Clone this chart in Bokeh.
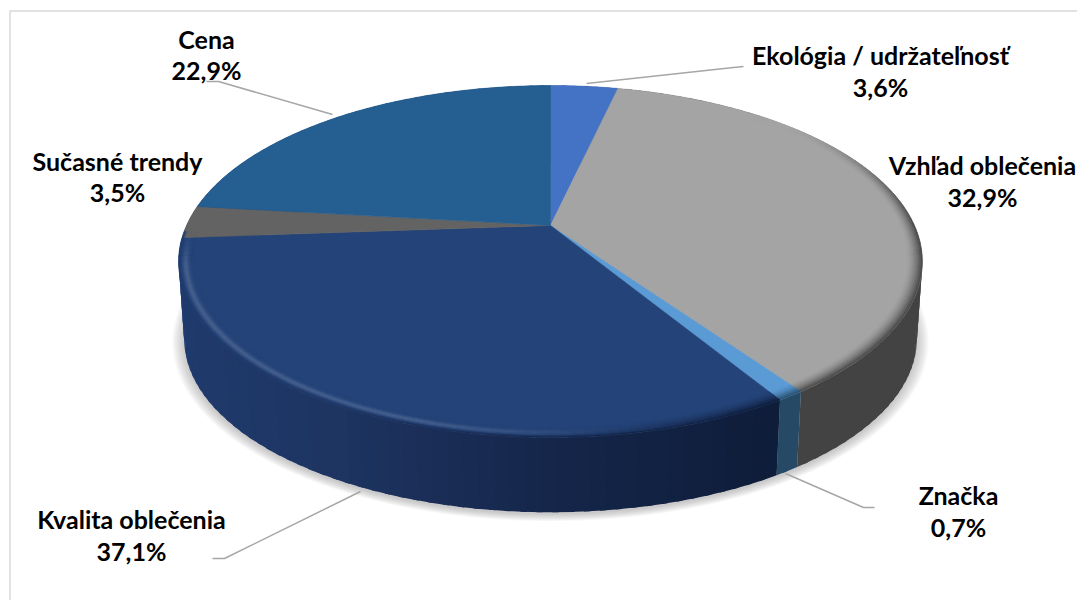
import numpy as np
from bokeh.plotting import figure
from bokeh.models import Range1d
from bokeh.core.properties import value
from bokeh.embed import file_html
from bokeh.resources import INLINE

# ---- data, clockwise from 12 o'clock, as seen in the picture ----
categories = ["Ekológia / udržateľnosť", "Vzhľad oblečenia", "Značka",
              "Kvalita oblečenia", "Sučasné trendy", "Cena"]
printed_labels = ["3,6%", "32,9%", "0,7%", "37,1%", "3,5%", "22,9%"]
# Sizes of the slices as measured from the drawing, which differ from the
# printed percentages: the grey slice is the larger one and the navy the smaller.
drawn_shares = [3.6, 37.1, 1.0, 32.9, 3.0, 23.4]

# ---- style and layout ----
top_colors = ["#4472c4", "#a4a4a4", "#5b9bd5", "#244378", "#636363", "#255e91"]
wall_colors = ["#2a4a80", "#434343", "#264a66", "#15264a", "#1f3b6e", "#1f3b6e"]
label_x = [880, 982, 958, 131, 117, 206]
name_y = [54, 164, 494, 518, 160, 38]
pct_y = [86, 196, 526, 550, 191, 69]
leaders = [
    ([586, 733, 743], [83, 67, 66]),
    ([785, 863, 874], [473, 507, 507]),
    ([360, 224, 212], [491, 558, 558]),
    ([206, 218, 332], [81, 81, 114]),
]
CX, CY = 550.0, 225.0
A, B, K = 364.0, 168.6, 0.2045
BOT_SCALE, BOT_DY = 0.985, 78.0
RIM = 0.96


def project(theta, r=1.0, bottom=False):
    u, v = r * np.sin(theta), r * np.cos(theta)
    d = 1 + K * v
    x, y = A * u / d, -B * v / d
    if bottom:
        x, y = x * BOT_SCALE, y * BOT_SCALE + BOT_DY
    return CX + x, CY + y


def rgb(c):
    return np.array([int(c[i:i + 2], 16) for i in (1, 3, 5)], dtype=float)


def hexc(a):
    return "#%02x%02x%02x" % tuple(int(round(min(255, max(0, x)))) for x in a)


def mix(a, b, t):
    return a + (b - a) * t


def sstep(e0, e1, x):
    t = np.clip((x - e0) / (e1 - e0), 0, 1)
    return t * t * (3 - 2 * t)


shares = np.array(drawn_shares, dtype=float)
edges = np.concatenate([[0], np.cumsum(shares)]) / shares.sum() * 2 * np.pi
NAVY = 3


def wall_shade(i, theta):
    base = rgb(wall_colors[i])
    if i == NAVY:
        u = np.sin(theta)
        stops_u = [-1.0, -0.5, 0.0, 0.6, 1.0]
        stops = np.array([rgb(c) for c in
                          ["#1f3b6e", "#1e3562", "#15264a", "#0d1b36", "#0d1b36"]])
        return np.array([np.interp(u, stops_u, stops[:, k]) for k in range(3)])
    return base


p = figure(width=1077, height=600, output_backend="svg", toolbar_location=None,
           x_range=Range1d(0, 1077), y_range=Range1d(600, 0), min_border=0)
p.axis.visible = False
p.grid.visible = False
p.outline_line_color = None
p.background_fill_color = "white"
p.border_fill_color = "white"

# chart frame (its right and bottom sides lie outside the picture)
p.line([1077, 9.5, 9.5], [10.5, 10.5, 600], line_color="#d9d9d9", line_width=1.5)

# soft shadow under the disc
ring = np.linspace(0, 2 * np.pi, 240)
sx, sy = [], []
for grow in np.linspace(1.0, 1.032, 9)[::-1]:
    bx, by = project(ring, 1.0, True)
    sx.append(list(CX + (bx - CX) * grow))
    sy.append(list(CY + BOT_DY * 0.95 + (by - CY - BOT_DY * 0.95) * grow + 2))
p.patches(sx, sy, fill_color="#7f7f7f", fill_alpha=0.055, line_color=None)

# side wall, overlapping strips
strips = []
for i in range(len(shares)):
    n = max(2, int(np.degrees(edges[i + 1] - edges[i]) / 2))
    grid = np.linspace(edges[i], edges[i + 1], n + 1)
    step = grid[1] - grid[0]
    for t0 in grid[:-1]:
        t1 = min(t0 + step * 1.4, edges[i + 1])
        tm = t0 + step / 2
        x0, y0 = project(t0)
        x1, y1 = project(t1)
        x2, y2 = project(t1, 1.0, True)
        x3, y3 = project(t0, 1.0, True)
        strips.append(([x0, x1, x2, x3], [y0, y1, y2, y3], hexc(wall_shade(i, tm))))
p.patches([s[0] for s in strips], [s[1] for s in strips],
          fill_color=[s[2] for s in strips], line_color=None)

# top faces
for i in range(len(shares)):
    grid = np.linspace(edges[i], edges[i + 1], max(3, int(np.degrees(edges[i + 1] - edges[i]))))
    x, y = project(grid)
    p.patch([CX] + list(x), [CY] + list(y), fill_color=top_colors[i],
            line_color=top_colors[i], line_width=0.5)

# rounded rim of the top faces
rim_r = np.linspace(RIM, 1.0, 11)
white = np.array([255.0, 255.0, 255.0])
rx, ry, rc = [], [], []
for i in range(len(shares)):
    lo = max(edges[i], np.radians(40))
    hi = min(edges[i + 1], np.radians(268))
    if hi <= lo:
        continue
    n = max(2, int(np.degrees(hi - lo) / 1.5))
    grid = np.linspace(lo, hi, n + 1)
    base = rgb(top_colors[i])
    for t0, t1 in zip(grid[:-1], grid[1:]):
        tm = (t0 + t1) / 2
        deg, u = np.degrees(tm), np.sin(tm)
        dark = wall_shade(i, tm)
        hl = float(np.clip((0.2 - u) / 0.5, 0, 1)) * (1 - sstep(255, 268, deg))
        dk = sstep(45, 95, deg) * float(np.clip((u + 0.1) / 0.5, 0, 1))
        for b, (r0, r1) in enumerate(zip(rim_r[:-1], rim_r[1:])):
            tt = (b + 0.5) / (len(rim_r) - 1)
            col = mix(base, white, 0.16 * hl * np.exp(-((tt - 0.55) / 0.2) ** 2))
            m = dk * tt ** 1.6
            if 90 <= deg <= 268:
                m = max(m, sstep(0.72, 1.0, tt))
            col = mix(col, dark, m)
            ax, ay = project(np.array([t0, t1]), r0)
            bx, by = project(np.array([t1, t0]), r1)
            rx.append(list(ax) + list(bx))
            ry.append(list(ay) + list(by))
            rc.append(hexc(col))
p.patches(rx, ry, fill_color=rc, line_color=rc, line_width=0.4)

# leader lines
for lx, ly in leaders:
    p.line(lx, ly, line_color="#a6a6a6", line_width=1.5)

# labels
font = value("Lato")
p.text(label_x, name_y, text=categories, text_font=font, text_font_style="bold",
       text_font_size="25px", text_color="#000000", text_align="center",
       text_baseline="middle")
p.text(label_x, pct_y, text=printed_labels, text_font=font, text_font_style="bold",
       text_font_size="25px", text_color="#000000", text_align="center",
       text_baseline="middle")

open("out.html", "w").write(file_html(p, INLINE))
